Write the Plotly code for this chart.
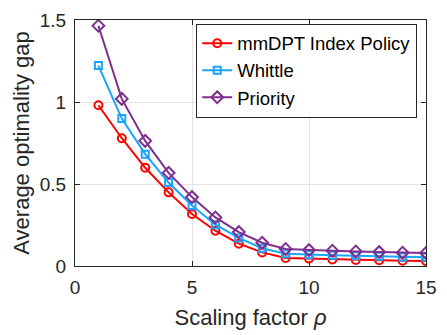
import plotly.graph_objects as go

rho = list(range(1, 16))
mmdpt = [0.98, 0.779, 0.599, 0.449, 0.317, 0.215, 0.136, 0.083, 0.049, 0.045, 0.040, 0.037, 0.035, 0.032, 0.030]
whittle = [1.222, 0.899, 0.682, 0.509, 0.369, 0.252, 0.171, 0.108, 0.075, 0.069, 0.065, 0.063, 0.059, 0.055, 0.053]
priority = [1.465, 1.019, 0.763, 0.568, 0.420, 0.296, 0.207, 0.142, 0.104, 0.097, 0.093, 0.089, 0.085, 0.081, 0.079]
x_ticks = [0, 5, 10, 15]
y_ticks = [0, 0.5, 1, 1.5]
y_tick_labels = ["0", "0.5", "1", "1.5"]

series = [
    ("mmDPT Index Policy", mmdpt, "#FF0000", "circle-open", 8),
    ("Whittle", whittle, "#1AA3FF", "square-open", 7),
    ("Priority", priority, "#7E2F8E", "diamond-open", 9),
]

FONT = "Liberation Sans, Arial, Helvetica, sans-serif"

fig = go.Figure()
for name, vals, color, sym, size in series:
    fig.add_trace(go.Scatter(
        x=rho, y=vals, name=name, mode="lines+markers",
        line=dict(color=color, width=2),
        marker=dict(symbol=sym, size=size, color=color, line=dict(width=2, color=color)),
    ))

axis_common = dict(
    showline=True, linecolor="#262626", linewidth=1, mirror="ticks",
    ticks="inside", ticklen=5, tickcolor="#262626",
    showgrid=True, gridcolor="#E3E3E3", gridwidth=1, zeroline=False,
    tickfont=dict(family=FONT, size=19, color="#262626"),
)

fig.update_layout(
    width=447, height=335,
    margin=dict(l=75, r=10, t=15, b=67),
    plot_bgcolor="white", paper_bgcolor="white",
    font=dict(family=FONT, color="#262626"),
    xaxis=dict(range=[0, 15], tickvals=x_ticks, ticklabelstandoff=4,
               title=dict(text="Scaling factor <i>ρ</i>", font=dict(size=22, color="#262626"), standoff=12),
               **axis_common),
    yaxis=dict(range=[0, 1.5], tickvals=y_ticks, ticktext=y_tick_labels, ticklabelstandoff=4,
               title=dict(text="Average optimality gap", font=dict(size=22, color="#262626"), standoff=4),
               **axis_common),
    legend=dict(x=0.975, y=0.985, xanchor="right", yanchor="top",
                bgcolor="white", bordercolor="#262626", borderwidth=1,
                font=dict(family=FONT, size=18.5, color="#000000"), tracegroupgap=0, itemwidth=30),
    showlegend=True,
)

fig.write_html("out.html", config={"displayModeBar": False},
               post_script="document.body.style.margin='0';")
